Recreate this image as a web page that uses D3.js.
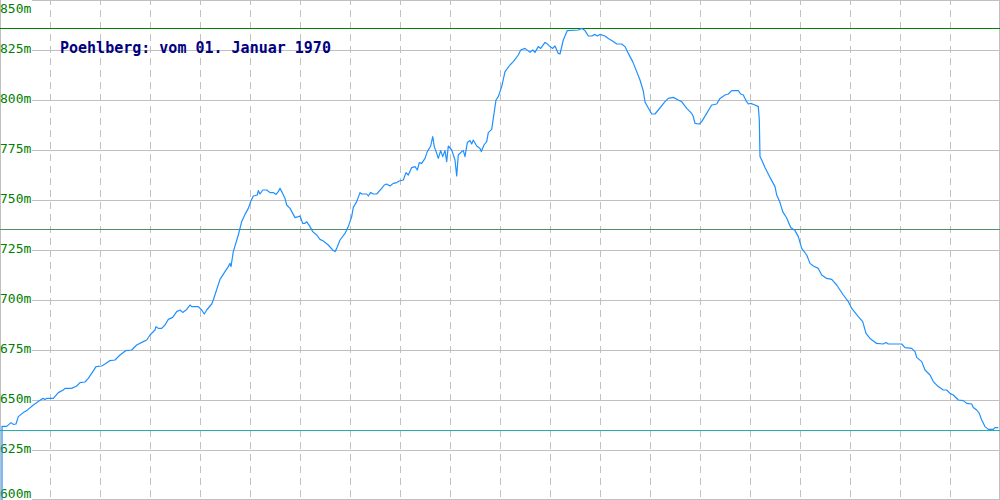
<!DOCTYPE html>
<html>
<head>
<meta charset="utf-8">
<script src="https://cdn.jsdelivr.net/npm/d3@7"></script>
<style>
  html, body { margin: 0; padding: 0; background: #ffffff; }
  svg { display: block; }
</style>
</head>
<body>
<svg id="chart" width="1000" height="500"></svg>
<script>
// ---- data ----
const title = "Poehlberg: vom 01. Januar 1970";
const yTicks = [600, 625, 650, 675, 700, 725, 750, 775, 800, 825, 850];
const xGrid = [50, 100, 150, 200, 250, 300, 350, 400, 450, 500, 550, 600, 650, 700, 750, 800, 850, 900, 950];
const maxElev = 836;
const avgElev = 735.5;
const minElev = 635;
const dist = [2, 2, 6.7, 11, 13.3, 16, 18.3, 23.3, 26.7, 33.3, 38.3, 42.7, 45, 46.7, 53.3, 58.3, 63.3, 65, 71.7, 76.7,
  80, 85, 88.3, 91.7, 96, 101.7, 105, 110, 115, 120, 126, 131.7, 136.7, 143.3, 146.7, 150, 155, 156, 158.3, 161.7,
  165, 168.3, 172.7, 176.7, 180, 182.7, 186.7, 190, 191.7, 198.3, 201.7, 204.3, 206.7, 211.7, 213.3, 220, 225, 228.3, 230, 231,
  233.3, 238.3, 241.7, 245, 248.3, 250.7, 253.3, 257.3, 258.3, 260, 262.7, 266.7, 270, 273.3, 276, 278.3, 280, 281.7, 285, 286.7,
  290, 295, 298.3, 300, 302.7, 305, 306.7, 310, 312.7, 316.7, 320, 323.3, 328.3, 333.3, 335, 336.7, 340, 345, 348.3, 351.7,
  353.3, 356.7, 360, 361.7, 366.7, 368.3, 370.7, 373.3, 376.7, 381.7, 384.3, 386.7, 390, 393.3, 396.7, 399.3, 403.3, 406, 408.3, 411.7,
  415, 417.3, 419.3, 421.7, 425, 427.3, 430.7, 432.7, 434.3, 436.7, 438.3, 440.7, 442.7, 445, 446.7, 448.3, 451.7, 455, 456.7, 458.3,
  461.7, 463.3, 465, 467.3, 470, 471.7, 473.3, 476.7, 480, 481.3, 484, 486.7, 488.3, 491.7, 493.3, 496, 498.3, 501.7, 505, 510,
  513.3, 518.3, 520.7, 525, 530, 532.7, 535, 538.3, 540.7, 545, 546.7, 550, 552.7, 555, 558.3, 560, 563.3, 567.3, 578.3, 581.7,
  585, 588.3, 591.7, 595, 597.3, 600, 605, 608.3, 613.3, 616.7, 621.7, 625, 628.3, 632.7, 636.7, 640, 643.3, 645, 648.3, 651.7,
  655, 658.3, 665, 668.3, 673.3, 678.3, 681.7, 686.7, 691.7, 693.3, 695, 699.3, 701.7, 706.7, 711.7, 716.7, 720, 725, 728.3, 731.7,
  738.3, 740.7, 743.3, 746, 748.3, 750.7, 755, 758.3, 759.3, 760, 761.7, 765, 770, 775, 776.7, 780, 782.7, 786.7, 790.7, 795,
  798.3, 801.7, 806.7, 810, 813.3, 818.3, 821.7, 826.7, 831.7, 836.7, 840, 843.3, 848.3, 851.7, 858.3, 862.7, 866, 870, 876.7, 883.3,
  886, 888.3, 901.7, 905, 911.7, 915, 916.7, 921.7, 925, 930, 933.3, 938.3, 943.3, 946.7, 950, 953.3, 958.3, 963.3, 966.7, 971.7,
  973.3, 976.7, 979.3, 981.7, 985, 988.3, 993.3, 995, 998.3];
const elev = [600, 636.8, 636.8, 638.7, 637.8, 638, 641.7, 643.7, 644.7, 647.5, 649.2, 650.8, 650.3, 650.8, 650.8, 653.7, 655, 655.8, 655.8, 657,
  658.7, 659, 660.8, 663.3, 666.7, 667, 668, 669.7, 670, 672.5, 674.7, 675, 677.5, 679.2, 680, 682.5, 685, 686.7, 685.8, 685.8,
  687.5, 690.3, 691.3, 694.2, 695, 693.8, 695.3, 697.5, 696.7, 696.7, 695, 693, 695, 698, 700, 710.3, 714.2, 716.7, 718.3, 716.7,
  724.2, 732.5, 739.2, 742.8, 745.8, 749.2, 752, 752.5, 754.7, 753, 755, 755, 753.7, 753.7, 752.8, 754.2, 755.8, 754.2, 750.8, 747.5,
  745.8, 741.2, 741.7, 742, 738.3, 738.3, 739.2, 736.7, 734.2, 732.5, 730.3, 729.5, 727.5, 724.7, 724.2, 725.8, 730, 733.3, 736.7, 741.7,
  746.3, 749.2, 753.7, 753, 753, 752, 753.8, 753, 753, 755.8, 757.5, 758, 757, 758.3, 758.7, 759.5, 760, 763.7, 762.5, 766.2,
  766.7, 765, 768.7, 768.3, 770.8, 774.2, 777, 781.7, 776.7, 773.3, 770.8, 774.7, 771.7, 774.7, 769.2, 777, 775, 770, 762, 772.5,
  774.2, 774.7, 771.7, 778.7, 779.7, 778, 780, 777, 775.8, 774.2, 777.5, 779.2, 783.7, 785.3, 790.8, 800, 801.7, 806.7, 814.2, 817.5,
  819.2, 822.5, 825, 825.8, 823.8, 825, 823.8, 826.7, 825.8, 828.8, 828.3, 826.7, 825.8, 827, 823.3, 823, 830, 834.7, 835, 835.8,
  834.7, 832, 832, 832.8, 832, 832.8, 832, 830.8, 829.2, 828, 828, 826.7, 823.3, 819.2, 814.2, 810, 804.5, 799, 796, 793,
  793, 795, 799.2, 800.8, 801.3, 800, 799.2, 795.8, 793.3, 791.7, 788.3, 788, 789.2, 793.3, 797.5, 798, 800.8, 802.5, 803, 804.7,
  804.7, 803, 802.5, 799.7, 798, 798.3, 797.5, 796.7, 790, 771.7, 770, 766.3, 761.3, 756.7, 752.5, 748.7, 744.2, 741, 736.3, 734.7,
  731.7, 725.8, 722.5, 718.3, 717, 715.8, 712.5, 710.8, 710.3, 707.5, 705, 702.5, 699.2, 695.8, 691.7, 689.2, 683.3, 680.8, 678.3, 678,
  678.8, 678, 678, 676.2, 675.8, 674.2, 671.3, 669.2, 665, 662.5, 659.2, 656.7, 655, 655, 653.3, 652.5, 650, 649.7, 648.3, 648,
  646.3, 645, 643.3, 640, 636.7, 635.3, 635.3, 636.2, 636.2];

// ---- chart ----
const W = 1000, H = 500;
const svg = d3.select("#chart");
const x = d3.scaleLinear().domain([0, 1000]).range([0, W]);
const y = d3.scaleLinear().domain([600, 850]).range([H, 0]);
const crisp = v => Math.round(v) + 0.5;
const gridColor = "#c0c0c0";

// vertical dashed grid
svg.append("g").selectAll("line").data(xGrid).join("line")
  .attr("x1", d => crisp(x(d))).attr("x2", d => crisp(x(d)))
  .attr("y1", 0).attr("y2", H)
  .attr("stroke", gridColor).attr("stroke-width", 1)
  .attr("stroke-dasharray", "7,5").attr("stroke-dashoffset", 2)
  .attr("shape-rendering", "crispEdges");

// horizontal grid
svg.append("g").selectAll("line").data(yTicks).join("line")
  .attr("x1", 32).attr("x2", W)
  .attr("y1", d => Math.min(crisp(y(d)), H - 0.5)).attr("y2", d => Math.min(crisp(y(d)), H - 0.5))
  .attr("stroke", gridColor).attr("stroke-width", 1)
  .attr("shape-rendering", "crispEdges");

// frame lines
svg.append("line").attr("x1", 0.5).attr("x2", 0.5).attr("y1", 0).attr("y2", H)
  .attr("stroke", gridColor).attr("shape-rendering", "crispEdges");
svg.append("line").attr("x1", W - 0.5).attr("x2", W - 0.5).attr("y1", 0).attr("y2", H)
  .attr("stroke", gridColor).attr("shape-rendering", "crispEdges");

// reference lines
const refs = [
  { v: maxElev, c: "#008000" },
  { v: avgElev, c: "#4f8f6a" },
  { v: minElev, c: "#20b2aa" }
];
svg.append("g").selectAll("line").data(refs).join("line")
  .attr("x1", 0).attr("x2", W)
  .attr("y1", d => crisp(y(d.v))).attr("y2", d => crisp(y(d.v)))
  .attr("stroke", d => d.c).attr("stroke-width", 1)
  .attr("shape-rendering", "crispEdges");

// tick labels
svg.append("g").selectAll("text").data(yTicks).join("text")
  .attr("x", 0)
  .attr("y", d => Math.max(13, Math.min(y(d) + 3, 498)))
  .attr("fill", "#008000")
  .attr("font-family", "DejaVu Sans Mono, monospace")
  .attr("font-size", 13)
  .text(d => d + "m");

// data line
const pts = dist.map((d, i) => [d, elev[i]]);
const line = d3.line().x(d => x(d[0])).y(d => y(d[1]));
svg.append("path").datum(pts)
  .attr("d", line)
  .attr("fill", "none")
  .attr("stroke", "#1e90ff")
  .attr("stroke-width", 1.2)
  .attr("stroke-linejoin", "round");

// title
svg.append("text")
  .attr("x", 60).attr("y", 53)
  .attr("fill", "#000080")
  .attr("font-family", "DejaVu Sans Mono, monospace")
  .attr("font-weight", "bold")
  .attr("font-size", 15)
  .text(title);
</script>
</body>
</html>
